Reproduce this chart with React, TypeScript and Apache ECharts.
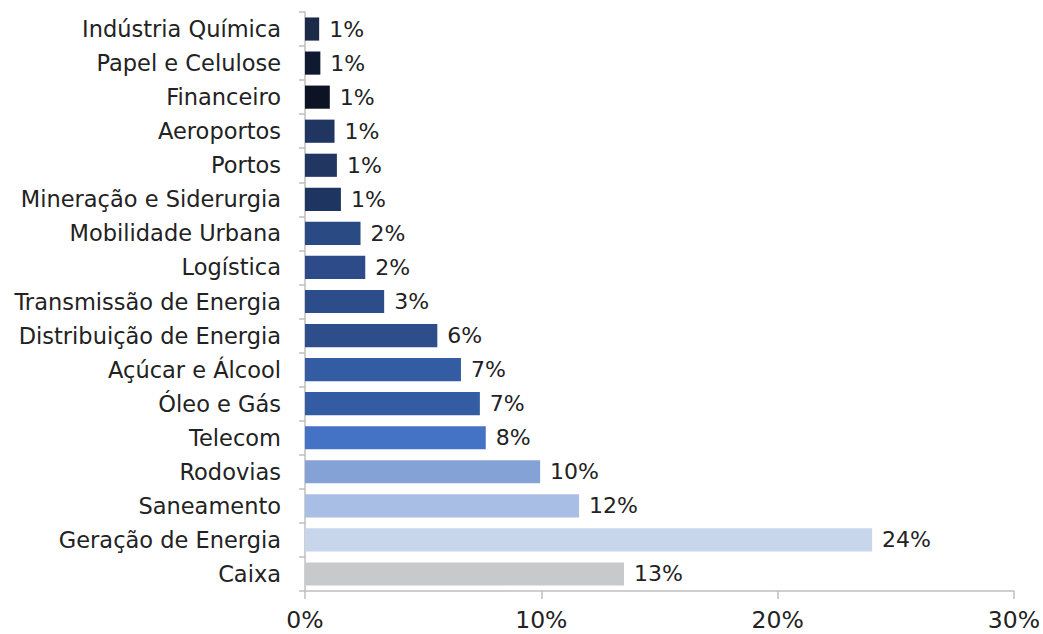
import React, { useEffect, useRef } from "react";
import * as echarts from "echarts";

const categories = [
  "Caixa",
  "Geração de Energia",
  "Saneamento",
  "Rodovias",
  "Telecom",
  "Óleo e Gás",
  "Açúcar e Álcool",
  "Distribuição de Energia",
  "Transmissão de Energia",
  "Logística",
  "Mobilidade Urbana",
  "Mineração e Siderurgia",
  "Portos",
  "Aeroportos",
  "Financeiro",
  "Papel e Celulose",
  "Indústria Química",
];

const values = [13.5, 24.0, 11.6, 9.95, 7.65, 7.4, 6.6, 5.6, 3.35, 2.55, 2.35, 1.52, 1.35, 1.25, 1.05, 0.65, 0.6];

const valueLabels = ["13%", "24%", "12%", "10%", "8%", "7%", "7%", "6%", "3%", "2%", "2%", "1%", "1%", "1%", "1%", "1%", "1%"];

const barColors = [
  "#c8c9cb",
  "#c8d6ec",
  "#a9bee4",
  "#84a2d6",
  "#4472c4",
  "#335ca2",
  "#335ca2",
  "#2e4e8b",
  "#2d4d8a",
  "#2c4b88",
  "#2a4a84",
  "#1f3561",
  "#213660",
  "#203560",
  "#0c1324",
  "#0f1a30",
  "#1c2a4a",
];

const xTicks = [0, 10, 20, 30];

export default function App() {
  const ref = useRef<HTMLDivElement>(null);
  useEffect(() => {
    if (!ref.current) return;
    const chart = echarts.init(ref.current, undefined, { renderer: "svg" });
    const font = "'DejaVu Sans', sans-serif";
    chart.setOption({
      animation: false,
      grid: { left: 305, right: 29, top: 12, bottom: 43, containLabel: false },
      xAxis: {
        type: "value",
        min: xTicks[0],
        max: xTicks[xTicks.length - 1],
        interval: 10,
        splitLine: { show: false },
        axisLine: { show: true, lineStyle: { color: "#bfbfbf", width: 1.5 } },
        axisTick: { show: true, length: 8, lineStyle: { color: "#bfbfbf", width: 1.5 } },
        axisLabel: {
          formatter: (v: number) => `${v}%`,
          color: "#222",
          fontSize: 23.5,
          fontFamily: font,
          margin: 17,
        },
      },
      yAxis: {
        type: "category",
        data: categories,
        axisLine: { show: true, lineStyle: { color: "#bfbfbf", width: 1.5 } },
        axisTick: { show: true, length: 6, alignWithLabel: false, lineStyle: { color: "#bfbfbf", width: 1.5 } },
        axisLabel: {
          color: "#222",
          fontSize: 22.5,
          fontFamily: font,
          margin: 24,
          padding: [3, 0, 0, 0],
        },
      },
      series: [
        {
          type: "bar",
          barCategoryGap: "32%",
          data: values.map((v, i) => ({ value: v, itemStyle: { color: barColors[i] } })),
          label: {
            show: true,
            position: "right",
            distance: 10,
            color: "#222",
            fontSize: 22,
            fontFamily: font,
            padding: [3, 0, 0, 0],
            formatter: (p: any) => valueLabels[p.dataIndex],
          },
        },
      ],
    });
    return () => chart.dispose();
  }, []);
  return <div ref={ref} style={{ width: 1043, height: 634, position: "absolute", left: 0, top: 0 }} />;
}
